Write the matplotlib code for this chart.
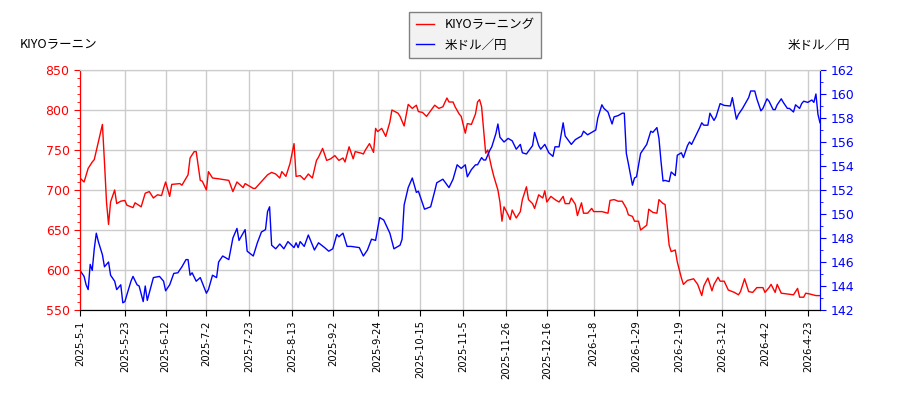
import numpy as np
import pandas as pd
import matplotlib
matplotlib.use("Agg")
import matplotlib.pyplot as plt
from matplotlib.ticker import MultipleLocator

plt.rcParams['font.family'] = ['DejaVu Sans', 'Noto Sans CJK JP']

start = pd.Timestamp('2025-05-01')
end_day = 363

# KIYOラーニング (left axis) : day offset from 2025-05-01, price
kiyo_days = [0, 2, 4, 6, 7, 9, 11, 12, 13, 14, 15, 17, 18, 20, 22, 23, 26, 27, 30, 32,
             34, 36, 38, 40, 41, 42, 44, 45, 49, 50, 53, 54, 56, 57, 59, 60, 62, 63, 65, 68,
             73, 75, 77, 80, 81, 85, 86, 92, 94, 96, 98, 99, 101, 103, 105, 106, 108, 110, 112, 114,
             116, 117, 119, 121, 123, 125, 127, 129, 130, 132, 134, 135, 138, 139, 140, 142, 144, 145, 146, 148,
             150, 152, 153, 156, 157, 159, 161, 163, 165, 166, 168, 170, 174, 176, 178, 180, 181, 183, 184, 186,
             187, 189, 190, 192, 194, 195, 196, 197, 198, 199, 200, 202, 203, 205, 206, 207, 208, 210, 211, 212,
             214, 216, 217, 219, 220, 222, 223, 225, 227, 228, 229, 231, 233, 235, 237, 238, 240, 241, 243, 244,
             246, 247, 249, 251, 252, 256, 259, 260, 262, 264, 266, 268, 269, 271, 272, 274, 275, 278, 279, 281,
             283, 284, 286, 287, 289, 290, 292, 293, 295, 296, 298, 301, 303, 305, 306, 308, 310, 311, 313, 314,
             316, 318, 321, 323, 324, 326, 328, 330, 332, 335, 336, 338, 339, 341, 342, 344, 347, 350, 352, 353,
             355, 356, 358, 361, 363]
kiyo_vals = [715, 710, 727, 735, 738, 760, 782, 735, 685, 657, 685, 700, 683, 686, 687, 681, 678, 684, 679, 696,
             698, 690, 694, 693, 702, 710, 692, 707, 708, 706, 719, 740, 748, 748, 712, 711, 700, 723, 715, 714,
             712, 698, 710, 703, 708, 702, 702, 719, 722, 720, 715, 723, 717, 733, 758, 717, 718, 713, 720, 715,
             737, 741, 752, 737, 739, 743, 737, 740, 735, 754, 739, 748, 746, 745, 750, 758, 747, 777, 773, 777,
             767, 785, 800, 796, 792, 780, 807, 802, 806, 798, 797, 792, 806, 802, 804, 815, 810, 810, 804, 795,
             792, 771, 783, 782, 795, 810, 813, 804, 775, 746, 750, 727, 717, 700, 685, 661, 679, 669, 663, 675,
             665, 673, 688, 704, 688, 683, 677, 694, 690, 699, 685, 692, 688, 685, 692, 683, 683, 690, 682, 668,
             684, 671, 671, 677, 673, 673, 671, 687, 688, 686, 686, 677, 669, 667, 661, 661, 650, 656, 676, 672,
             671, 688, 683, 682, 631, 623, 625, 610, 590, 582, 587, 589, 582, 568, 580, 590, 574, 582, 591, 586,
             586, 575, 572, 569, 573, 589, 573, 572, 578, 578, 572, 578, 582, 572, 582, 571, 570, 569, 577, 566,
             566, 571, 570, 568, 568]

# 米ドル／円 (right axis)
usd_days = [0, 2, 3, 4, 5, 6, 7, 8, 9, 11, 12, 14, 15, 17, 18, 20, 21, 22, 25, 26,
            28, 29, 31, 32, 33, 36, 39, 41, 42, 44, 46, 48, 50, 52, 53, 54, 55, 57, 59, 62,
            63, 65, 67, 68, 70, 73, 75, 77, 78, 81, 82, 85, 87, 89, 91, 92, 93, 94, 96, 98,
            100, 102, 105, 106, 107, 108, 110, 112, 115, 117, 120, 122, 124, 126, 127, 129, 131, 133, 137, 139,
            141, 143, 145, 147, 149, 152, 154, 157, 158, 159, 161, 163, 165, 166, 169, 172, 174, 175, 178, 181,
            183, 185, 187, 189, 190, 192, 194, 195, 197, 198, 199, 201, 202, 204, 205, 206, 208, 210, 212, 214,
            216, 217, 219, 222, 223, 225, 226, 228, 230, 232, 233, 235, 237, 238, 241, 243, 245, 246, 247, 249,
            251, 253, 254, 256, 257, 259, 261, 262, 264, 266, 267, 268, 269, 271, 272, 273, 275, 276, 278, 280,
            281, 282, 283, 284, 285, 286, 287, 289, 290, 292, 293, 295, 296, 298, 299, 300, 302, 304, 305, 306,
            308, 309, 311, 312, 314, 316, 319, 320, 322, 323, 325, 327, 328, 329, 331, 332, 334, 335, 337, 338,
            340, 341, 342, 344, 345, 347, 348, 350, 351, 353, 354, 355, 357, 359, 360, 361, 362, 363]
usd_vals = [145.3, 144.8, 144.1, 143.7, 145.8, 145.3, 147.1, 148.4, 147.7, 146.6, 145.6, 146.0, 144.9, 144.4, 143.7, 144.1, 142.6, 142.7, 144.4, 144.8,
            144.1, 144.0, 142.7, 144.0, 142.8, 144.7, 144.8, 144.4, 143.6, 144.1, 145.05, 145.1, 145.6, 146.2, 146.2, 144.9, 145.1, 144.4, 144.7, 143.4,
            143.7, 144.9, 144.7, 146.0, 146.5, 146.2, 148.0, 148.8, 147.8, 148.7, 146.9, 146.5, 147.6, 148.5, 148.7, 150.2, 150.6, 147.4, 147.1, 147.5,
            147.1, 147.7, 147.2, 147.6, 147.2, 147.7, 147.3, 148.25, 147.0, 147.6, 147.2, 146.9, 147.1, 148.3, 148.1, 148.4, 147.3, 147.3, 147.2, 146.5,
            147.0, 147.9, 147.8, 149.7, 149.5, 148.4, 147.1, 147.4, 147.9, 150.75, 152.2, 153.0, 151.8, 151.9, 150.4, 150.6, 151.9, 152.6, 152.9, 152.2,
            152.9, 154.1, 153.8, 154.1, 153.1, 153.7, 154.1, 154.1, 154.7, 154.5, 154.5, 155.3, 155.6, 156.7, 157.5, 156.4, 156.0, 156.3, 156.1, 155.4,
            155.8, 155.1, 155.0, 155.7, 156.8, 155.7, 155.4, 155.8, 155.1, 154.8, 155.6, 155.6, 157.6, 156.5, 155.8, 156.2, 156.4, 156.5, 156.9, 156.6,
            156.8, 157.0, 158.0, 159.1, 158.8, 158.5, 157.5, 158.1, 158.2, 158.4, 158.4, 155.05, 154.2, 152.4, 153.0, 153.1, 155.05, 155.3, 155.8, 156.9,
            156.8, 157.0, 157.2, 156.3, 154.4, 152.75, 152.8, 152.7, 153.5, 153.2, 154.9, 155.1, 154.7, 155.7, 156.0, 155.8, 156.5, 157.2, 157.6, 157.4,
            157.4, 158.4, 157.8, 158.1, 159.2, 159.05, 159.0, 159.7, 157.9, 158.3, 158.8, 159.4, 159.7, 160.25, 160.25, 159.6, 158.6, 158.8, 159.6, 159.4,
            158.7, 158.7, 159.1, 159.6, 159.3, 158.8, 158.8, 158.5, 159.1, 158.8, 159.2, 159.4, 159.3, 159.5, 159.3, 160.0, 158.3, 157.6]

tick_labels = ['2025-5-1', '2025-5-23', '2025-6-12', '2025-7-2', '2025-7-23', '2025-8-13',
               '2025-9-2', '2025-9-24', '2025-10-15', '2025-11-5', '2025-11-26', '2025-12-16',
               '2026-1-8', '2026-1-29', '2026-2-19', '2026-3-12', '2026-4-2', '2026-4-23']

kiyo_dates = start + pd.to_timedelta(kiyo_days, unit='D')
usd_dates = start + pd.to_timedelta(usd_days, unit='D')
tick_dates = pd.to_datetime(tick_labels)

jp = ['Noto Sans CJK JP', 'DejaVu Sans']

fig = plt.figure(figsize=(9, 4), dpi=100)
ax1 = fig.add_axes([80 / 900, 90 / 400, 740 / 900, 240 / 400])
ax2 = ax1.twinx()

l1, = ax1.plot(kiyo_dates, kiyo_vals, color='red', lw=1, label='KIYOラーニング')
l2, = ax2.plot(usd_dates, usd_vals, color='blue', lw=1, label='米ドル／円')

ax1.set_xlim(start, start + pd.Timedelta(days=end_day))
ax1.set_ylim(550, 850)
ax2.set_ylim(142, 162)

ax1.yaxis.set_major_locator(MultipleLocator(50))
ax1.yaxis.set_minor_locator(MultipleLocator(10))
ax2.yaxis.set_major_locator(MultipleLocator(2))
ax2.yaxis.set_minor_locator(MultipleLocator(1))

ax1.set_xticks(tick_dates)
ax1.set_xticklabels(tick_labels, rotation=90, fontsize=7.2)

ax1.grid(True, color='#cccccc', lw=1)
ax1.set_axisbelow(True)

ax1.tick_params(axis='y', colors='red', labelsize=9, length=4)
ax1.tick_params(axis='y', which='minor', colors='red', length=2.5)
ax2.tick_params(axis='y', colors='blue', labelsize=9, length=4)
ax2.tick_params(axis='y', which='minor', colors='blue', length=2.5)
ax1.tick_params(axis='x', length=4)

ax1.spines['left'].set_color('red')
ax2.spines['left'].set_color('red')
ax2.spines['right'].set_color('blue')
ax1.spines['right'].set_color('blue')
for a in (ax1, ax2):
    a.spines['top'].set_color('#cccccc')

fig.text(20 / 900, 1 - 45 / 400, 'KIYOラーニン', fontsize=9, family=jp, va='center', ha='left')
fig.text(850 / 900, 1 - 45 / 400, '米ドル／円', fontsize=9, family=jp, va='center', ha='right')

leg = fig.legend(handles=[l1, l2], loc='center', bbox_to_anchor=(475 / 900, 1 - 35 / 400),
                 prop={'family': jp, 'size': 9}, fancybox=False, framealpha=1,
                 facecolor='#f2f2f2', edgecolor='#808080', handlelength=1.5,
                 labelspacing=0.6, borderpad=0.5)

fig.savefig('out.png', dpi=100)
